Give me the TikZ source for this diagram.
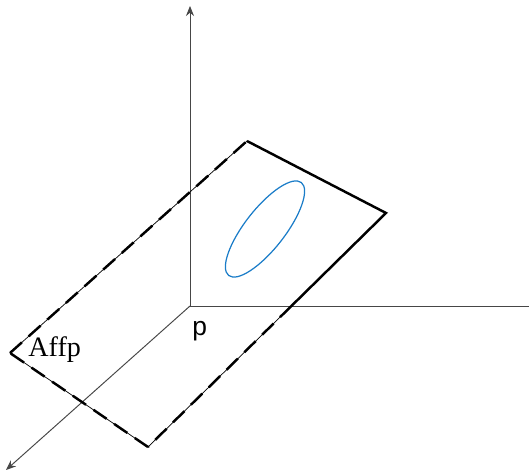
\documentclass[tikz,border=0pt]{standalone}
\usepackage{tikz}
\usetikzlibrary{arrows.meta,positioning,calc}
\usepackage{xcolor}
\usepackage{fontspec}
\newfontfamily\labelserif{Liberation Serif}
\newfontfamily\labelsans{Liberation Sans}
\definecolor{axisgray}{RGB}{70,70,70}
\definecolor{ellblue}{RGB}{26,124,200}

\begin{document}
\begin{tikzpicture}[x=0.02cm,y=-0.02cm,
  axis/.style={draw=axisgray,line width=0.55pt},
  edgesolid/.style={draw=black,line width=1.4pt,line join=miter},
  edgethin/.style={draw=black,line width=0.4pt},
  edgedash/.style={draw=black,line width=1.4pt,dash pattern=on 0.32cm off 0.18cm}]
\useasboundingbox (0,0) rectangle (529,473);
% axes
\coordinate (O) at (190,306);
\coordinate (ztop) at (190,6);
\coordinate (xend) at (529,306);
\coordinate (yend) at (6,470);
\draw[axis,-{Stealth[length=2mm,width=1.6mm]}] (O) -- (ztop);
\draw[axis] (O) -- (xend);
\draw[axis,-{Stealth[length=2mm,width=1.6mm]}] (O) -- (yend);
% plane
\coordinate (top) at (247,141);
\coordinate (right) at (386,213);
\coordinate (bottom) at (148,447);
\coordinate (left) at (10,353);
\coordinate (cross) at (intersection of right--bottom and O--xend);
\draw[edgesolid] (top) -- (right) -- (cross);
\draw[edgethin] (cross) -- (bottom) -- (left) -- (top);
\draw[edgedash] (cross) -- (bottom);
\draw[edgedash] (bottom) -- (left);
\draw[edgedash] (left) -- (top);
% circle on the plane
\coordinate (C) at (265,229);
\draw[ellblue,line width=0.7pt,rotate around={52:(C)}] (C) ellipse [x radius=1.18cm,y radius=0.4cm];
% labels
\node[font=\fontsize{16}{19}\labelserif,anchor=base west,inner sep=0pt] (aff) at (28,357) {Affp};
\node[font=\fontsize{15}{18}\labelsans,anchor=base west,inner sep=0pt] (p) at (192,336) {p};
\end{tikzpicture}
\end{document}
